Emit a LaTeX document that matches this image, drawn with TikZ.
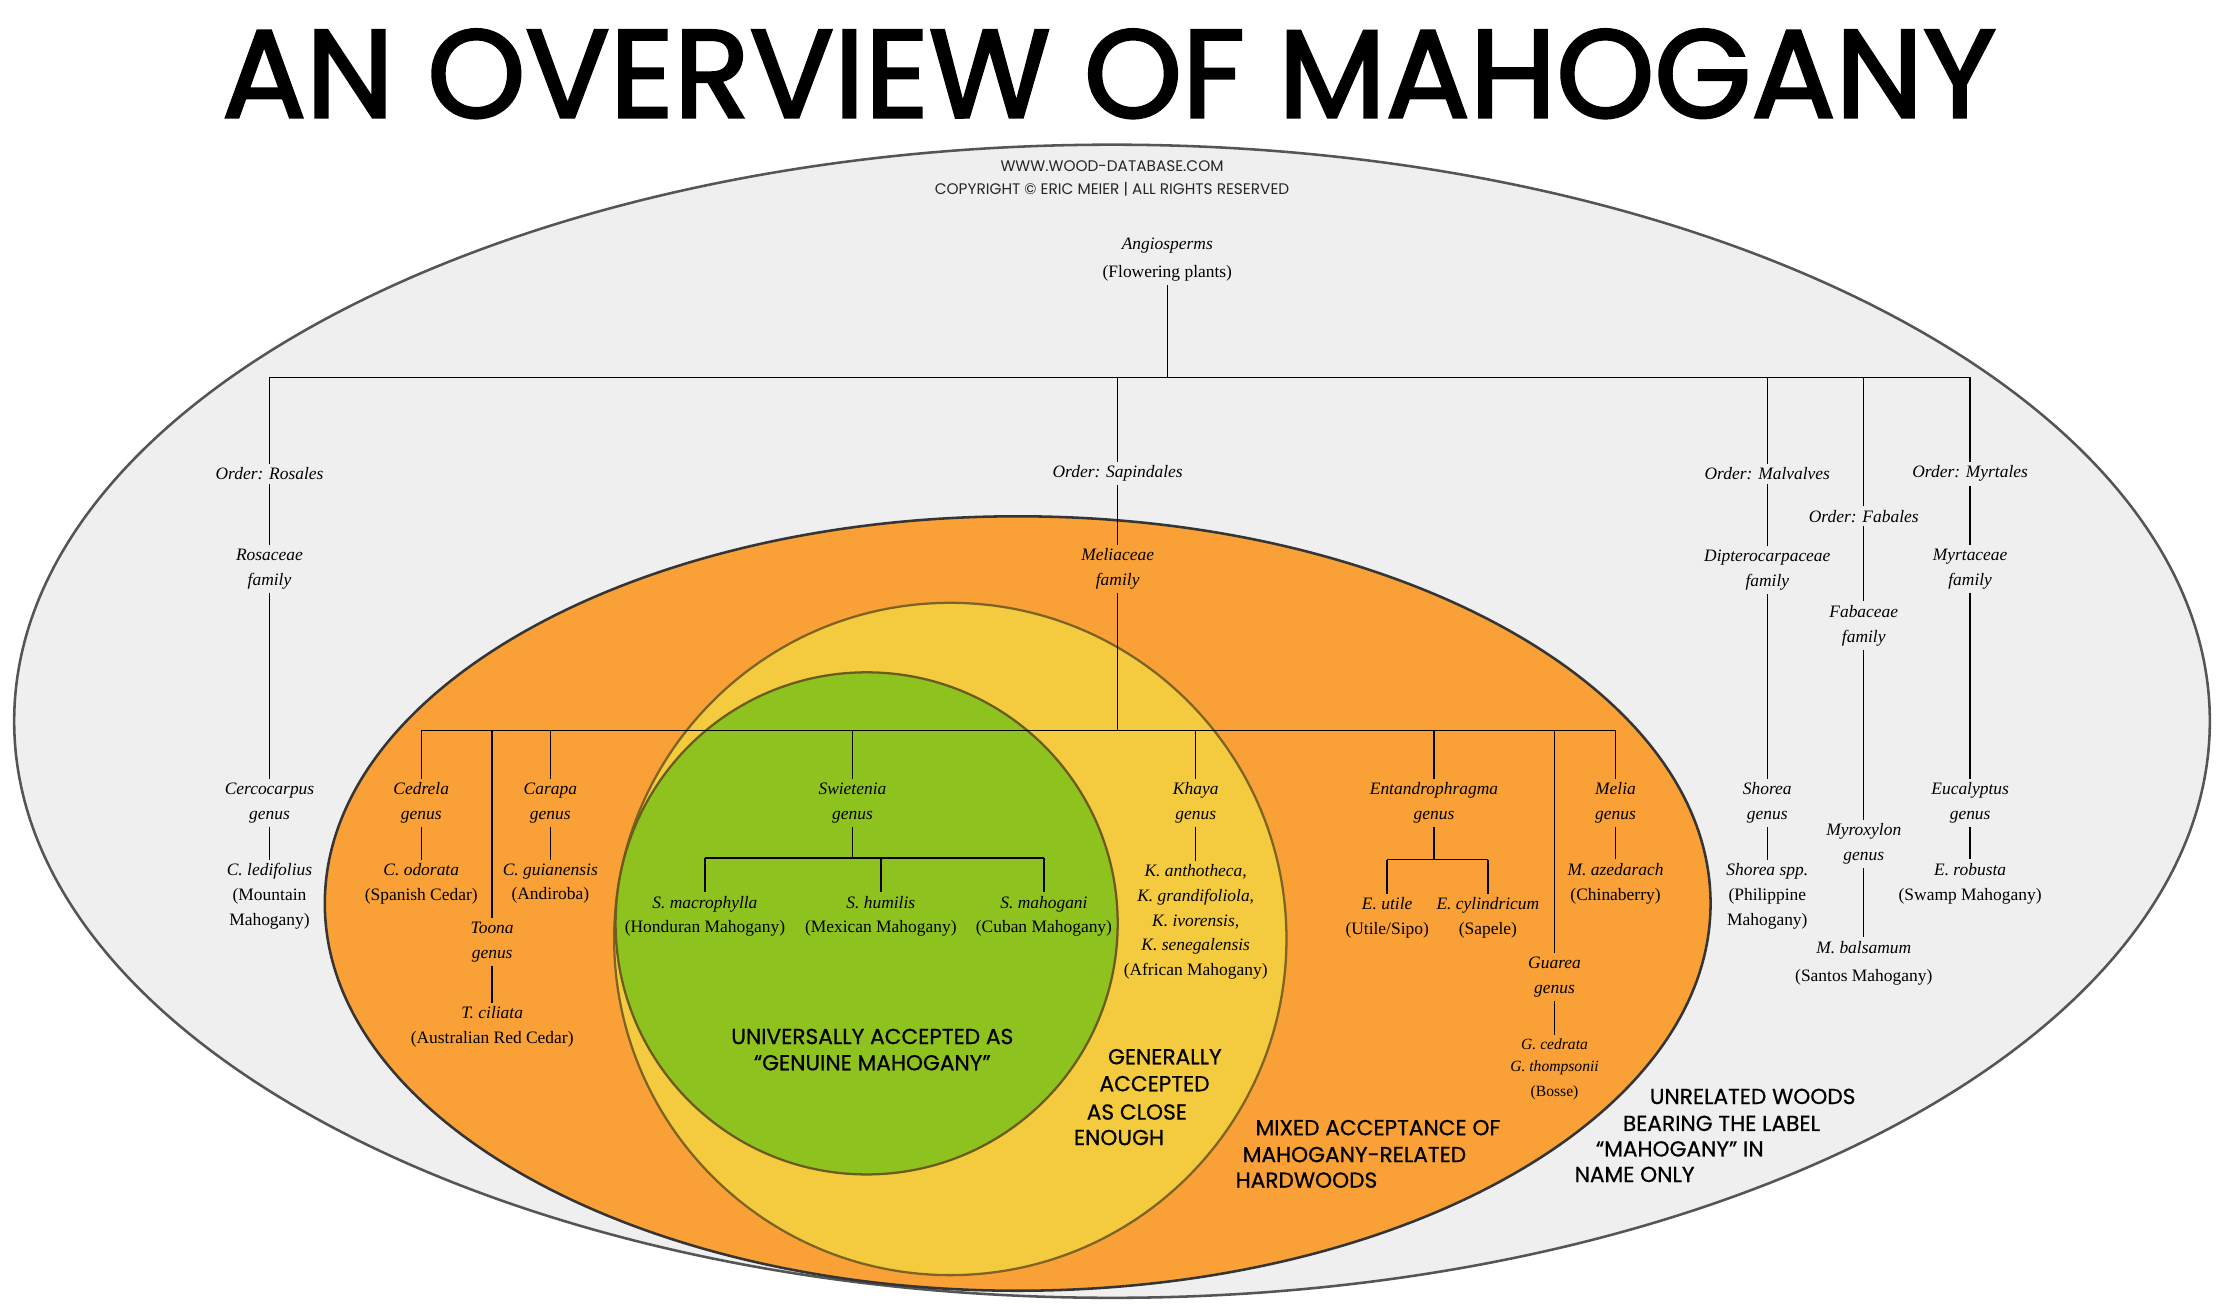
\documentclass[tikz,border=0pt]{standalone}
\usepackage{fontspec}
\setmainfont{Liberation Serif}
\newfontfamily\futfont{Poppins}
\newfontfamily\futmedium{Poppins}[FakeBold=0.7]
\newfontfamily\futheavy{Poppins}[FakeBold=2.2]
\usetikzlibrary{positioning, calc}
\definecolor{greyfill}{HTML}{EFEFEF}
\definecolor{greyedge}{HTML}{555555}
\definecolor{orangefill}{HTML}{F9A037}
\definecolor{orangeedge}{HTML}{353535}
\definecolor{yellowfill}{HTML}{F4CB3F}
\definecolor{yellowedge}{HTML}{7D6424}
\definecolor{greenfill}{HTML}{8EC21F}
\definecolor{greenedge}{HTML}{6B5B1E}
\tikzset{
  taxon/.style={font=\fontsize{12.3}{17.5}\selectfont, align=center, inner sep=2.5pt},
  zone/.style={font=\futmedium\fontsize{15.3}{18.5}\selectfont, inner sep=0pt, anchor=west},
  branch/.style={line width=1pt, color=black},
  disc/.style={fill=#1fill, draw=#1edge, line width=1.6pt},
}
\begin{document}
\begin{tikzpicture}[x=1pt, y=-1pt]
  \fill[white] (0,0) rectangle (1568,922);
  \useasboundingbox (0,0) rectangle (1568,922);
  \node[font=\futheavy\fontsize{88}{88}\selectfont, inner sep=0pt] (title) at (782,52) {AN OVERVIEW OF MAHOGANY};
  \draw[disc=grey, line width=1.8pt] (784,508.5) ellipse [x radius=774pt, y radius=406.5pt];
  \draw[disc=orange, line width=1.8pt] (717.5,637) ellipse [x radius=488.5pt, y radius=273pt];
  \draw[disc=yellow] (670,662) circle [radius=237pt];
  \draw[disc=green] (611,651) circle [radius=177pt];
  \node[font=\futfont\fontsize{10.8}{16}\selectfont, align=center, inner sep=0pt, text=black!85] (web) at (784,126) {WWW.WOOD-DATABASE.COM\\COPYRIGHT © ERIC MEIER | ALL RIGHTS RESERVED};
  \node[taxon] (ang) at (823,183) {\textit{Angiosperms}\\[2pt](Flowering plants)};
  \foreach \n/\x/\y/\t in {ros/190/334/Rosales, sap/788/334/Sapindales, mal/1246/334/Malvalves, fab/1314/364/Fabales, myr/1389/334/Myrtales}
    \node[taxon] (\n) at (\x,\y) {\textit{Order: \t}};
  \foreach \n/\x/\y/\t in {rosf/190/401/Rosaceae, melf/788/401/Meliaceae, dipf/1246/402/Dipterocarpaceae, fabf/1314/441/Fabaceae, myrf/1389/401/Myrtaceae}
    \node[taxon] (\n) at (\x,\y) {\textit{\t}\\\textit{family}};
  \foreach \n/\x/\y/\t in {cerc/190/566/Cercocarpus, cedr/297/566/Cedrela, toon/347/664/Toona, cara/388/566/Carapa, swie/601/566/Swietenia, khay/843/566/Khaya, enta/1011/566/Entandrophragma, guar/1096/689/Guarea, meli/1139/566/Melia, shor/1246/566/Shorea, myro/1314/595/Myroxylon, euca/1389/566/Eucalyptus}
    \node[taxon] (\n) at (\x,\y) {\textit{\t}\\\textit{genus}};
  \foreach \n/\x/\y/\t in {cled/190/632/{\textit{C. ledifolius}\\(Mountain\\Mahogany)}, codo/297/623/{\textit{C. odorata}\\(Spanish Cedar)}, cgui/388/623/{\textit{C. guianensis}\\(Andiroba)}, tcil/347/724/{\textit{T. ciliata}\\(Australian Red Cedar)}, smac/497/646/{\textit{S. macrophylla}\\(Honduran Mahogany)}, shum/621/646/{\textit{S. humilis}\\(Mexican Mahogany)}, smah/736/646/{\textit{S. mahogani}\\(Cuban Mahogany)}, kant/843/650/{\textit{K. anthotheca,}\\\textit{K. grandifoliola,}\\\textit{K. ivorensis,}\\\textit{K. senegalensis}\\(African Mahogany)}, euti/978/647/{\textit{E. utile}\\(Utile/Sipo)}, ecyl/1049/647/{\textit{E. cylindricum}\\(Sapele)}, maze/1139/623/{\textit{M. azedarach}\\(Chinaberry)}, sspp/1246/632/{\textit{Shorea spp.}\\(Philippine\\Mahogany)}, mbal/1314/679/{\textit{M. balsamum}\\[2pt](Santos Mahogany)}, erob/1389/623/{\textit{E. robusta}\\(Swamp Mahogany)}}
    \node[taxon] (\n) at (\x,\y) {\t};
  \node[taxon, font=\fontsize{11}{15}\selectfont] (gced) at (1096,754) {\textit{G. cedrata}\\\textit{G. thompsonii}\\[3pt](Bosse)};
  \coordinate (ob) at (823,266);
  \coordinate (mb) at (788,515);
  \coordinate (sb) at (601,605);
  \coordinate (eb) at (1011,606);
  \draw[branch] (ang) -- (ob);
  \draw[branch] (ros |- ob) -- (myr |- ob);
  \foreach \n in {ros,sap,mal,fab,myr} \draw[branch] (\n |- ob) -- (\n);
  \draw[branch] (melf) -- (mb);
  \draw[branch] (cedr |- mb) -- (meli |- mb);
  \foreach \n in {cedr,toon,cara,swie,khay,enta,guar,meli} \draw[branch] (\n |- mb) -- (\n);
  \draw[branch] (swie) -- (sb);
  \draw[branch] (smac |- sb) -- (smah |- sb);
  \foreach \n in {smac,shum,smah} \draw[branch] (\n |- sb) -- (\n);
  \draw[branch] (enta) -- (eb);
  \draw[branch] (euti |- eb) -- (ecyl |- eb);
  \foreach \n in {euti,ecyl} \draw[branch] (\n |- eb) -- (\n);
  \foreach \a/\b in {ros/rosf, rosf/cerc, cerc/cled, sap/melf, mal/dipf, dipf/shor, shor/sspp, fab/fabf, fabf/myro, myro/mbal, myr/myrf, myrf/euca, euca/erob, cedr/codo, cara/cgui, toon/tcil, khay/kant, meli/maze, guar/gced}
    \draw[branch] (\a) -- (\a |- \b.north);
  \node[font=\futmedium\fontsize{15.3}{18.5}\selectfont, align=center, inner sep=0pt] (genuine) at (615,740) {UNIVERSALLY ACCEPTED AS\\“GENUINE MAHOGANY”};
  \foreach \i/\x/\y/\t in {1/781/745/GENERALLY, 2/775/764/ACCEPTED, 3/766/784/AS CLOSE, 4/757/802/ENOUGH}
    \node[zone] (close\i) at (\x,\y) {\t};
  \foreach \i/\x/\y/\t in {1/885/795/MIXED ACCEPTANCE OF, 2/876/814/MAHOGANY-RELATED, 3/871/832/HARDWOODS}
    \node[zone] (mixed\i) at (\x,\y) {\t};
  \foreach \i/\x/\y/\t in {1/1163/773/UNRELATED WOODS, 2/1144/792/BEARING THE LABEL, 3/1125/810/“MAHOGANY” IN, 4/1110/828/NAME ONLY}
    \node[zone] (unrel\i) at (\x,\y) {\t};
\end{tikzpicture}
\end{document}
